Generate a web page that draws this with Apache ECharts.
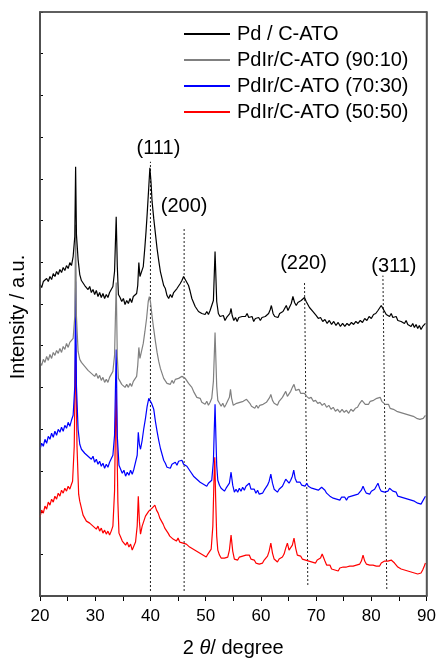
<!DOCTYPE html>
<html>
<head>
<meta charset="utf-8">
<script src="https://cdn.jsdelivr.net/npm/echarts@6/dist/echarts.min.js"></script>
<style>
html,body{margin:0;padding:0;background:#fff;}
#chart{width:439px;height:663px;}
</style>
</head>
<body>
<div id="chart"></div>
<script>
// ---- data (2θ in degrees, intensity in a.u., offset stacked as plotted) ----
const seriesNames = ['Pd / C-ATO', 'PdIr/C-ATO (90:10)', 'PdIr/C-ATO (70:30)', 'PdIr/C-ATO (50:50)'];

const pdCATO = [[20.0,624],[20.3,618],[20.6,630],[20.9,626],[21.2,636],[21.5,630],[21.8,640],[22.1,634],[22.4,646],[22.7,640],[23.0,650],[23.3,644],[23.6,654],[23.9,648],[24.2,658],[24.5,652],[24.8,662],[25.1,656],[25.4,668],[25.7,662],[26.0,680],[26.3,720],[26.45,860],[26.6,724],[26.9,674],[27.2,644],[27.5,632],[27.8,636],[28.1,622],[28.4,626],[28.7,614],[29.0,620],[29.3,608],[29.6,614],[29.9,604],[30.2,612],[30.5,600],[30.8,608],[31.1,598],[31.4,606],[31.7,596],[32.0,604],[32.3,598],[32.6,608],[32.9,610],[33.2,620],[33.5,650],[33.8,760],[34.0,660],[34.2,604],[34.5,598],[34.8,590],[35.1,596],[35.4,584],[35.7,592],[36.0,586],[36.3,596],[36.6,588],[36.9,600],[37.2,596],[37.5,606],[37.7,622],[37.9,668],[38.1,640],[38.4,636],[38.7,660],[39.0,700],[39.2,730],[39.4,764],[39.7,820],[39.9,858],[40.1,830],[40.3,790],[40.6,756],[40.9,726],[41.2,696],[41.5,672],[41.8,650],[42.1,636],[42.4,622],[42.7,616],[43.0,602],[43.3,596],[43.6,604],[43.9,598],[44.2,608],[44.5,604],[44.8,616],[45.1,614],[45.4,626],[45.7,632],[46.0,640],[46.3,634],[46.6,630],[46.9,622],[47.2,610],[47.5,596],[47.8,588],[48.1,580],[48.4,576],[48.7,570],[49.0,574],[49.3,566],[49.6,570],[49.9,564],[50.2,570],[50.5,564],[50.8,572],[51.1,572],[51.4,592],[51.7,690],[52.0,590],[52.3,566],[52.6,560],[52.9,556],[53.2,562],[53.5,552],[53.8,558],[54.1,556],[54.4,566],[54.6,576],[54.8,562],[55.1,552],[55.4,558],[55.7,550],[56.0,558],[56.3,554],[56.6,560],[56.9,556],[57.2,560],[57.5,566],[57.8,558],[58.1,556],[58.4,560],[58.7,550],[59.0,556],[59.3,552],[59.6,558],[59.9,552],[60.2,558],[60.5,554],[60.8,560],[61.1,558],[61.4,566],[61.7,574],[61.9,582],[62.2,566],[62.5,560],[62.8,564],[63.1,558],[63.4,566],[63.7,562],[64.0,570],[64.3,576],[64.6,582],[64.9,572],[65.2,576],[65.5,586],[65.8,600],[66.1,588],[66.4,582],[66.7,588],[67.0,584],[67.3,592],[67.6,590],[67.9,598],[68.2,590],[68.5,584],[68.8,578],[69.1,576],[69.4,570],[69.7,566],[70.0,562],[70.4,556],[70.8,558],[71.2,550],[71.6,554],[72.0,546],[72.4,552],[72.8,544],[73.2,550],[73.6,542],[74.0,548],[74.4,540],[74.8,546],[75.2,540],[75.6,546],[76.0,542],[76.4,548],[76.8,544],[77.2,550],[77.6,546],[78.0,552],[78.4,548],[78.8,556],[79.2,552],[79.6,560],[80.0,556],[80.4,564],[80.8,566],[81.2,572],[81.5,576],[81.8,582],[82.1,578],[82.4,570],[82.7,564],[83.0,568],[83.3,560],[83.6,566],[83.9,558],[84.2,556],[84.5,560],[84.8,552],[85.1,556],[85.4,550],[85.7,554],[86.0,546],[86.3,552],[86.6,544],[86.9,548],[87.2,540],[87.5,546],[87.8,538],[88.1,544],[88.4,536],[88.7,542],[89.0,534],[89.3,540],[89.6,536],[89.8,546]];

const pdIr9010 = [[20.0,468],[20.3,462],[20.6,474],[20.9,468],[21.2,480],[21.5,472],[21.8,484],[22.1,476],[22.4,488],[22.7,482],[23.0,492],[23.3,486],[23.6,496],[23.9,488],[24.2,500],[24.5,494],[24.8,506],[25.1,498],[25.4,508],[25.7,504],[26.0,516],[26.3,560],[26.45,744],[26.6,560],[26.9,490],[27.2,474],[27.5,468],[27.8,470],[28.1,460],[28.4,464],[28.7,452],[29.0,456],[29.3,446],[29.6,450],[29.9,440],[30.2,446],[30.5,436],[30.8,442],[31.1,432],[31.4,438],[31.7,428],[32.0,434],[32.3,428],[32.6,438],[32.9,440],[33.2,450],[33.5,482],[33.8,628],[34.0,480],[34.2,436],[34.5,430],[34.8,424],[35.1,428],[35.4,418],[35.7,424],[36.0,418],[36.3,426],[36.6,420],[36.9,430],[37.2,426],[37.5,440],[37.7,462],[37.9,498],[38.1,476],[38.4,480],[38.7,506],[39.0,530],[39.3,556],[39.6,590],[39.8,600],[40.0,590],[40.3,560],[40.6,534],[40.9,510],[41.2,488],[41.5,470],[41.8,456],[42.1,446],[42.4,436],[42.7,434],[43.0,426],[43.3,430],[43.6,424],[43.9,432],[44.2,426],[44.5,434],[44.8,430],[45.1,436],[45.4,432],[45.7,440],[46.0,444],[46.3,436],[46.6,432],[46.9,426],[47.2,428],[47.5,418],[47.8,410],[48.1,404],[48.4,398],[48.7,394],[49.0,396],[49.3,388],[49.6,392],[49.9,384],[50.2,390],[50.5,382],[50.8,388],[51.1,396],[51.4,430],[51.7,528],[52.0,420],[52.2,392],[52.5,386],[52.8,380],[53.1,386],[53.4,378],[53.7,384],[54.0,384],[54.3,398],[54.5,414],[54.7,396],[55.0,382],[55.3,378],[55.6,386],[55.9,382],[56.2,388],[56.5,384],[56.8,390],[57.1,386],[57.4,394],[57.7,392],[58.0,386],[58.3,380],[58.6,384],[58.9,376],[59.2,382],[59.5,376],[59.8,382],[60.1,378],[60.4,384],[60.7,382],[61.0,388],[61.3,392],[61.6,398],[61.8,404],[62.1,392],[62.4,386],[62.7,390],[63.0,382],[63.3,390],[63.6,388],[63.9,398],[64.2,404],[64.5,410],[64.8,400],[65.1,402],[65.4,410],[65.7,418],[66.0,424],[66.3,412],[66.6,408],[66.9,414],[67.2,406],[67.5,410],[67.9,406],[68.3,400],[68.7,396],[69.1,398],[69.5,390],[69.9,392],[70.3,386],[70.7,388],[71.1,382],[71.5,386],[71.9,378],[72.3,382],[72.7,374],[73.1,378],[73.5,370],[73.9,374],[74.3,368],[74.7,374],[75.1,368],[75.5,372],[75.9,366],[76.3,374],[76.7,370],[77.1,376],[77.5,378],[77.9,386],[78.3,392],[78.6,388],[78.9,384],[79.2,388],[79.5,384],[79.8,390],[80.1,386],[80.4,392],[80.7,390],[81.0,396],[81.3,394],[81.6,398],[81.9,390],[82.2,392],[82.5,384],[82.8,380],[83.1,384],[83.4,376],[83.7,380],[84.0,374],[84.3,378],[84.6,370],[84.9,374],[85.2,368],[85.5,372],[85.8,366],[86.1,370],[86.4,364],[86.7,368],[87.0,362],[87.3,366],[87.6,360],[87.9,364],[88.2,356],[88.5,360],[88.8,354],[89.1,358],[89.4,356],[89.8,362]];

const pdIr7030 = [[20.0,294],[20.3,306],[20.6,300],[20.9,314],[21.2,306],[21.5,320],[21.8,314],[22.1,326],[22.4,318],[22.7,330],[23.0,322],[23.3,334],[23.6,328],[23.9,338],[24.2,330],[24.5,342],[24.8,336],[25.1,348],[25.4,340],[25.7,352],[26.0,362],[26.3,420],[26.45,630],[26.6,420],[26.9,334],[27.2,304],[27.5,294],[27.8,298],[28.1,286],[28.4,290],[28.7,280],[29.0,284],[29.3,274],[29.6,280],[29.9,268],[30.2,274],[30.5,264],[30.8,270],[31.1,260],[31.4,266],[31.7,256],[32.0,264],[32.3,258],[32.6,268],[32.9,270],[33.2,282],[33.5,322],[33.8,494],[34.0,320],[34.3,262],[34.6,254],[34.9,246],[35.2,252],[35.5,240],[35.8,248],[36.1,242],[36.4,252],[36.7,244],[37.0,254],[37.3,250],[37.6,282],[37.8,328],[38.0,304],[38.2,294],[38.5,312],[38.8,336],[39.1,356],[39.4,380],[39.7,396],[39.9,398],[40.2,386],[40.6,374],[40.9,350],[41.2,330],[41.5,312],[41.8,296],[42.1,284],[42.4,272],[42.7,266],[43.0,258],[43.3,262],[43.6,256],[43.9,264],[44.2,260],[44.5,268],[44.8,262],[45.1,270],[45.4,266],[45.7,272],[46.0,264],[46.3,268],[46.6,260],[46.9,256],[47.2,250],[47.5,246],[47.8,240],[48.1,242],[48.4,234],[48.7,236],[49.0,228],[49.3,232],[49.6,224],[49.9,228],[50.2,220],[50.5,226],[50.8,222],[51.1,232],[51.4,270],[51.55,330],[51.7,384],[51.85,320],[52.0,262],[52.2,232],[52.5,222],[52.8,216],[53.1,220],[53.4,210],[53.7,216],[54.0,214],[54.3,226],[54.6,248],[54.9,222],[55.2,208],[55.5,214],[55.8,208],[56.1,216],[56.4,210],[56.7,218],[57.0,212],[57.3,220],[57.6,222],[57.9,226],[58.2,214],[58.5,210],[58.8,214],[59.1,206],[59.4,212],[59.7,204],[60.0,208],[60.3,206],[60.6,212],[60.9,214],[61.2,222],[61.5,230],[61.8,244],[62.1,226],[62.4,214],[62.7,216],[63.0,208],[63.3,214],[63.6,212],[63.9,220],[64.2,224],[64.5,234],[64.8,236],[65.1,226],[65.4,232],[65.7,240],[65.95,252],[66.2,236],[66.5,228],[66.8,224],[67.1,228],[67.4,222],[67.7,226],[68.0,220],[68.3,226],[68.6,220],[68.9,222],[69.2,216],[69.5,220],[69.8,214],[70.1,218],[70.4,212],[70.7,216],[71.0,218],[71.3,222],[71.6,212],[71.9,206],[72.2,204],[72.5,200],[72.8,204],[73.1,196],[73.4,200],[73.7,194],[74.0,198],[74.3,192],[74.6,198],[74.9,194],[75.2,198],[75.5,192],[75.8,198],[76.1,194],[76.4,200],[76.7,196],[77.0,202],[77.3,198],[77.6,204],[77.9,206],[78.2,212],[78.5,220],[78.8,212],[79.1,206],[79.4,210],[79.7,204],[80.0,210],[80.3,208],[80.6,214],[80.9,218],[81.2,226],[81.5,216],[81.8,210],[82.1,214],[82.4,208],[82.7,212],[83.0,210],[83.3,216],[83.6,218],[83.9,210],[84.2,206],[84.5,208],[84.8,200],[85.1,204],[85.4,198],[85.7,202],[86.0,196],[86.3,200],[86.6,194],[86.9,198],[87.2,192],[87.5,196],[87.8,190],[88.1,194],[88.4,186],[88.7,190],[89.0,184],[89.3,190],[89.6,192],[89.8,200]];

const pdIr5050 = [[20.0,158],[20.3,172],[20.6,166],[20.9,180],[21.2,174],[21.5,188],[21.8,182],[22.1,194],[22.4,188],[22.7,200],[23.0,194],[23.3,206],[23.6,200],[23.9,212],[24.2,206],[24.5,216],[24.8,210],[25.1,220],[25.4,214],[25.7,224],[25.9,230],[26.2,300],[26.45,504],[26.7,300],[27.0,204],[27.2,190],[27.5,176],[27.8,162],[28.1,156],[28.4,150],[28.7,154],[29.0,146],[29.3,150],[29.6,140],[29.9,144],[30.2,134],[30.5,140],[30.8,130],[31.1,136],[31.4,126],[31.7,132],[32.0,124],[32.3,130],[32.6,122],[32.9,130],[33.2,140],[33.5,210],[33.65,330],[33.8,414],[33.95,300],[34.1,190],[34.3,126],[34.6,118],[34.9,110],[35.2,114],[35.5,102],[35.8,108],[36.1,98],[36.4,104],[36.7,92],[37.0,100],[37.3,108],[37.6,140],[37.8,200],[38.0,150],[38.2,124],[38.5,140],[38.8,150],[39.1,160],[39.4,156],[39.7,170],[40.0,166],[40.3,176],[40.6,172],[40.8,182],[41.1,172],[41.4,166],[41.7,156],[42.0,150],[42.3,144],[42.6,136],[42.9,132],[43.2,126],[43.5,120],[43.8,122],[44.1,114],[44.4,118],[44.7,110],[45.0,116],[45.3,108],[45.6,112],[45.9,106],[46.2,110],[46.5,104],[46.8,102],[47.1,98],[47.4,102],[47.7,94],[48.0,98],[48.3,90],[48.6,94],[48.9,86],[49.2,90],[49.5,82],[49.8,86],[50.1,78],[50.4,84],[50.7,80],[51.0,94],[51.3,140],[51.5,230],[51.65,278],[51.8,200],[52.0,120],[52.2,92],[52.5,82],[52.8,76],[53.1,72],[53.4,76],[53.7,72],[54.0,78],[54.3,92],[54.6,122],[54.9,90],[55.2,74],[55.5,76],[55.8,72],[56.1,78],[56.4,74],[56.7,80],[57.0,76],[57.3,82],[57.6,86],[57.9,82],[58.2,74],[58.5,70],[58.8,72],[59.1,66],[59.4,70],[59.7,64],[60.0,68],[60.3,66],[60.6,72],[60.9,74],[61.2,80],[61.5,90],[61.8,106],[62.1,86],[62.4,74],[62.7,72],[63.0,68],[63.3,74],[63.6,72],[63.9,78],[64.2,84],[64.5,96],[64.8,106],[65.1,92],[65.4,90],[65.7,102],[66.0,116],[66.3,96],[66.6,82],[66.9,78],[67.2,80],[67.5,74],[67.8,78],[68.1,72],[68.4,76],[68.7,70],[69.0,74],[69.3,68],[69.6,72],[69.9,66],[70.2,72],[70.5,70],[70.8,76],[71.1,84],[71.3,86],[71.6,70],[71.9,62],[72.2,58],[72.5,62],[72.8,54],[73.1,58],[73.4,52],[73.7,56],[74.0,50],[74.3,56],[74.6,52],[74.9,58],[75.2,54],[75.5,58],[75.8,54],[76.1,60],[76.4,56],[76.7,60],[77.0,58],[77.3,62],[77.6,60],[77.9,64],[78.2,70],[78.5,82],[78.8,70],[79.1,64],[79.4,66],[79.7,62],[80.0,66],[80.3,62],[80.6,66],[80.9,60],[81.2,64],[81.5,60],[81.8,66],[82.1,64],[82.4,70],[82.7,66],[83.0,70],[83.3,68],[83.6,72],[83.9,76],[84.2,66],[84.5,62],[84.8,58],[85.1,60],[85.4,54],[85.7,58],[86.0,52],[86.3,56],[86.6,50],[86.9,54],[87.2,48],[87.5,52],[87.8,46],[88.1,50],[88.4,44],[88.7,48],[89.0,46],[89.3,52],[89.6,60],[89.8,66]];

// reflection markers
const refLabels = ['(111)', '(200)', '(220)', '(311)'];
const refAngleTop = [40.0, 46.1, 67.9, 82.1];
const refAngleBottom = [40.0, 46.1, 68.5, 82.8];
const refTop = [870, 738, 630, 642];
const refBottom = [10, 10, 22, 14];

const xTicks = [20, 30, 40, 50, 60, 70, 80, 90];

// ---- styles ----
const FONT = "'Liberation Sans', Arial, sans-serif";
const colors = ['#000000', '#808080', '#0000ff', '#ff0000'];
const labelOffsets = [[8, -13], [0, -21], [-1, -18], [11, -9]];

const dataSets = [pdCATO, pdIr9010, pdIr7030, pdIr5050];

const series = [];
// draw red first so black ends on top
for (let i = dataSets.length - 1; i >= 0; i--) {
  series.push({
    name: seriesNames[i],
    type: 'line',
    data: dataSets[i],
    showSymbol: false,
    symbol: 'none',
    lineStyle: { color: colors[i], width: 1.2 },
    itemStyle: { color: colors[i] },
    animation: false,
    z: 3
  });
}
for (let k = 0; k < refLabels.length; k++) {
  series.push({
    type: 'line',
    data: [[refAngleBottom[k], refBottom[k]], [refAngleTop[k], refTop[k]]],
    symbol: 'none',
    lineStyle: { color: '#222', width: 1, type: [2, 2] },
    silent: true,
    animation: false,
    z: 2
  });
  series.push({
    type: 'scatter',
    data: [[refAngleTop[k], refTop[k]]],
    symbolSize: 0,
    itemStyle: { opacity: 1, color: '#000' },
    label: {
      show: true,
      position: 'inside',
      offset: labelOffsets[k],
      formatter: refLabels[k],
      color: '#000',
      opacity: 1,
      fontSize: 20,
      fontFamily: FONT
    },
    silent: true,
    animation: false,
    z: 5
  });
}

const chart = echarts.init(document.getElementById('chart'), null, { renderer: 'canvas' });
chart.setOption({
  backgroundColor: '#fff',
  animation: false,
  grid: { left: 40, top: 12, width: 391, height: 585, show: true, borderColor: '#555', borderWidth: 1.5, backgroundColor: 'rgba(0,0,0,0)', z: 10 },
  legend: {
    data: seriesNames,
    orient: 'vertical',
    left: 184,
    top: 24,
    padding: 0,
    itemWidth: 46,
    itemHeight: 2,
    itemGap: 6,
    icon: 'rect',
    textStyle: { fontSize: 20, fontFamily: FONT, color: '#000', lineHeight: 20, padding: [0, 0, 0, 2] },
    selectedMode: false
  },
  xAxis: [{
    type: 'value',
    min: 20,
    max: 90,
    interval: 10,
    name: '2 {i|θ}/ degree',
    nameLocation: 'middle',
    nameGap: 42,
    nameTextStyle: {
      fontSize: 20, fontFamily: FONT, color: '#000',
      rich: { i: { fontStyle: 'italic', fontSize: 20, fontFamily: FONT, color: '#000' } }
    },
    axisLine: { show: true, onZero: false, lineStyle: { color: '#000', width: 1.5 } },
    axisTick: { show: true, inside: false, length: 5, lineStyle: { color: '#000' } },
    minorTick: { show: true, splitNumber: 2, length: 5, lineStyle: { color: '#000' } },
    axisLabel: {
      fontSize: 17, fontFamily: FONT, color: '#000', margin: 12,
      formatter: v => (xTicks.indexOf(v) >= 0 ? String(v) : '')
    },
    splitLine: { show: false }
  }, {
    type: 'value',
    position: 'top',
    min: 20,
    max: 90,
    axisLine: { show: true, onZero: false, lineStyle: { color: '#555', width: 1.5 } },
    axisTick: { show: false },
    axisLabel: { show: false },
    splitLine: { show: false }
  }],
  yAxis: [{
    type: 'value',
    min: 0,
    max: 1170,
    interval: 1170 / 14,
    name: 'Intensity / a.u.',
    nameLocation: 'middle',
    nameGap: 12,
    nameTextStyle: { fontSize: 20, fontFamily: FONT, color: '#000', padding: [0, 26, 0, 0] },
    axisLine: { show: true, onZero: false, lineStyle: { color: '#000', width: 1.5 } },
    axisTick: { show: true, inside: true, length: 3, lineStyle: { color: '#000' } },
    axisLabel: { show: false },
    splitLine: { show: false }
  }, {
    type: 'value',
    position: 'right',
    min: 0,
    max: 1170,
    axisLine: { show: true, onZero: false, lineStyle: { color: '#555', width: 1.5 } },
    axisTick: { show: false },
    axisLabel: { show: false },
    splitLine: { show: false }
  }],
  series: series
});
</script>
</body>
</html>
